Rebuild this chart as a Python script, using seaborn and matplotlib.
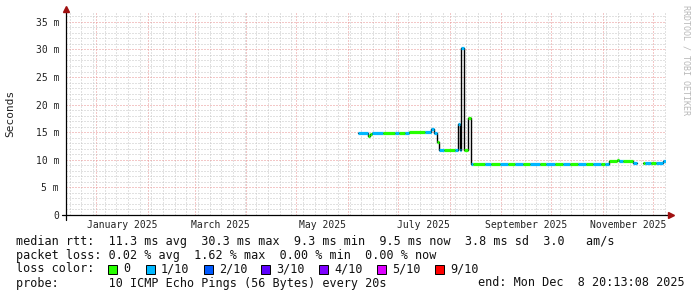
import numpy as np
import pandas as pd
import matplotlib
matplotlib.use("Agg")
import matplotlib.pyplot as plt
import matplotlib.dates as mdates
from matplotlib.ticker import MultipleLocator, FuncFormatter
from matplotlib.patches import Rectangle
import seaborn as sns

# ---------------- data ----------------
window_start = "2024-12-13 20:13:08"
series_end = "2025-12-08 20:13:08"

seg_start = [
    "2025-06-07", "2025-06-13", "2025-06-14", "2025-06-15 12:00", "2025-06-22",
    "2025-06-29", "2025-07-01 12:00", "2025-07-05", "2025-07-07 12:00", "2025-07-17",
    "2025-07-20 18:00", "2025-07-22 12:00", "2025-07-24 06:00", "2025-07-25 12:00",
    "2025-07-28 12:00", "2025-08-04", "2025-08-06", "2025-08-07", "2025-08-08",
    "2025-08-09 12:00", "2025-08-12", "2025-08-14", "2025-08-15", "2025-08-22",
    "2025-08-26", "2025-08-31", "2025-09-05", "2025-09-09", "2025-09-14",
    "2025-09-18", "2025-09-24", "2025-09-28", "2025-10-03", "2025-10-08",
    "2025-10-12", "2025-10-17", "2025-10-22", "2025-10-26", "2025-10-31",
    "2025-11-02", "2025-11-04 12:00", "2025-11-09 12:00", "2025-11-10 12:00",
    "2025-11-13", "2025-11-19", "2025-11-21 12:00", "2025-11-25", "2025-11-26",
    "2025-11-30", "2025-12-03", "2025-12-07",
]
rtt_ms = [
    14.8, 14.3, 14.6, 14.9, 14.8,
    14.9, 14.9, 14.9, 15.0, 15.0,
    15.6, 14.9, 13.3, 11.7,
    11.7, 11.8, 16.5, 11.8, 30.3,
    11.8, 17.6, 9.3, 9.3, 9.3,
    9.3, 9.3, 9.3, 9.3, 9.3,
    9.3, 9.3, 9.3, 9.3, 9.3,
    9.3, 9.3, 9.3, 9.3, 9.3,
    9.3, 9.7, 10.0, 9.7,
    9.7, 9.4, np.nan, 9.5, 9.5,
    9.5, 9.5, 9.8,
]
loss_tenths = [
    1, 0, 0, 1, 0,
    1, 0, 1, 0, 1,
    1, 1, 0, 1,
    0, 1, 1, 1, 1,
    0, 0, 1, 0, 1,
    0, 1, 0, 1, 0,
    1, 0, 1, 0, 1,
    0, 1, 0, 1, 0,
    1, 0, 0, 1,
    0, 1, 0, 0, 1,
    0, 1, 1,
]

loss_levels = [0, 1, 2, 3, 4, 5, 9]
loss_labels = ["0", "1/10", "2/10", "3/10", "4/10", "5/10", "9/10"]
loss_colors = ["#26ff00", "#00b8ff", "#0059ff", "#5e00ff", "#7e00ff", "#dd00ff", "#ff0000"]

y_ticks_ms = [0, 5, 10, 15, 20, 25, 30, 35]
month_labels = ["January 2025", "March 2025", "May 2025", "July 2025",
                "September 2025", "November 2025"]
month_label_at = ["2025-01-16 12:00", "2025-03-16 12:00", "2025-05-16 12:00",
                  "2025-07-16 12:00", "2025-09-16 00:00", "2025-11-16 00:00"]

rtt_stats = [11.3, 30.3, 9.3, 9.5, 3.8]   # avg, max, min, now, sd
am_per_s = 3.0
loss_stats = [0.02, 1.62, 0.00, 0.00]     # avg, max, min, now
probe_text = "10 ICMP Echo Pings (56 Bytes) every 20s"
end_text = "end: Mon Dec  8 20:13:08 2025"

# ---------------- build step data ----------------
starts = pd.to_datetime(seg_start, format="mixed")
ends = pd.to_datetime(seg_start[1:] + [series_end], format="mixed")
rows = []
run = 0
for s, e, v in zip(starts, ends, rtt_ms):
    if np.isnan(v):
        run += 1
        continue
    rows.append((s, v, run))
    rows.append((e, v, run))
steps = pd.DataFrame(rows, columns=["time", "rtt", "run"])

# ---------------- figure ----------------
sns.set_style("white")
plt.rcParams["font.family"] = ["DejaVu Sans Mono", "DejaVu Sans"]

W, H = 697, 297
fig = plt.figure(figsize=(W / 100, H / 100), dpi=100)
fig.patch.set_facecolor("white")
ax = fig.add_axes([66 / W, 82 / H, 600 / W, 202 / H])
ax.set_facecolor("white")

sns.lineplot(data=steps, x="time", y="rtt", units="run", estimator=None,
             color="black", lw=1.0, ax=ax, zorder=2, sort=False)

cmap = dict(zip(loss_levels, loss_colors))
mask = ~np.isnan(np.array(rtt_ms))
ax.hlines(np.array(rtt_ms)[mask],
          mdates.date2num(starts[mask]), mdates.date2num(ends[mask]),
          colors=[cmap[l] for l, m in zip(loss_tenths, mask) if m],
          lw=2.3, zorder=3)

ax.set_xlim(pd.Timestamp(window_start), pd.Timestamp(series_end))
ax.set_ylim(0, 36.6)

# grids
ax.set_axisbelow(True)
ax.xaxis.set_major_locator(mdates.MonthLocator())
ax.xaxis.set_minor_locator(mdates.WeekdayLocator(byweekday=mdates.MO))
ax.yaxis.set_major_locator(MultipleLocator(5))
ax.yaxis.set_minor_locator(MultipleLocator(1))
ax.grid(True, which="minor", color="#c4c4c4", ls=(0, (1, 2)), lw=0.72)
ax.grid(True, which="major", color="#e89090", ls=(0, (1, 2)), lw=0.72)

ax.set_yticks(y_ticks_ms)
ax.yaxis.set_major_formatter(FuncFormatter(lambda v, _: "0" if v == 0 else f"{v:g} m"))
ax.tick_params(axis="y", which="both", length=0, pad=5, labelsize=7, labelcolor="#222222")
ax.tick_params(axis="x", which="major", length=3, color="#e08080", width=0.7,
               labelbottom=False, direction="out")
ax.tick_params(axis="x", which="minor", length=2, color="#c0c0c0", width=0.7,
               labelbottom=False, direction="out")
ax.set_xlabel("")
ax.set_ylabel("")
for sp in ax.spines.values():
    sp.set_visible(False)

for lab, pos in zip(month_labels, month_label_at):
    ax.text(pd.Timestamp(pos), -10 / 202, lab, transform=ax.get_xaxis_transform(),
            ha="center", va="center", fontsize=7, color="#222222")

# axis lines with arrows
arrow_c = "#a01010"
ax.plot([-4 / 600, 1 + 3 / 600], [0, 0], transform=ax.transAxes, color="black",
        lw=0.9, clip_on=False, zorder=5)
ax.plot([0, 0], [-5 / 202, 1 + 2 / 202], transform=ax.transAxes, color="black",
        lw=0.9, clip_on=False, zorder=5)
ax.plot([1 + 5 / 600], [0], transform=ax.transAxes, marker=">", ms=4.5,
        color=arrow_c, clip_on=False, zorder=6)
ax.plot([0], [1 + 4 / 202], transform=ax.transAxes, marker="^", ms=4.5,
        color=arrow_c, clip_on=False, zorder=6)

# labels
fig.text(10 / W, 1 - 113 / H, "Seconds", rotation=90, ha="center", va="center",
         fontsize=8, color="#222222")
fig.text(686 / W, 1 - 60 / H, "RRDTOOL / TOBI OETIKER", rotation=270,
         ha="center", va="center", fontsize=6, color="#b8b8b8")

fs = 8.5
line1 = ("median rtt:  {:.1f} ms avg  {:.1f} ms max  {:.1f} ms min  {:.1f} ms now  "
         "{:.1f} ms sd  {:.1f}   am/s").format(*rtt_stats, am_per_s)
line2 = "packet loss: {:.2f} % avg  {:.2f} % max  {:.2f} % min  {:.2f} % now".format(*loss_stats)
fig.text(16 / W, 1 - 241 / H, line1, ha="left", va="center", fontsize=fs, color="#111111")
fig.text(16 / W, 1 - 255 / H, line2, ha="left", va="center", fontsize=fs, color="#111111")
fig.text(16 / W, 1 - 269 / H, "loss color:", ha="left", va="center", fontsize=fs, color="#111111")

box_x = [108, 146, 204, 261, 319, 377, 435]
for bx, lab, col in zip(box_x, loss_labels, loss_colors):
    fig.patches.append(Rectangle((bx / W, 1 - 274 / H), 9 / W, 9 / H,
                                 transform=fig.transFigure, facecolor=col,
                                 edgecolor="black", lw=0.7, figure=fig))
    fig.text((bx + 15) / W, 1 - 269 / H, lab, ha="left", va="center", fontsize=fs,
             color="#111111")

fig.text(16 / W, 1 - 283 / H, "probe:       " + probe_text, ha="left", va="center",
         fontsize=fs, color="#111111")
fig.text(478 / W, 1 - 283 / H, end_text, ha="left", va="center", fontsize=fs,
         color="#111111")

fig.savefig("out.png", dpi=100, facecolor="white")
